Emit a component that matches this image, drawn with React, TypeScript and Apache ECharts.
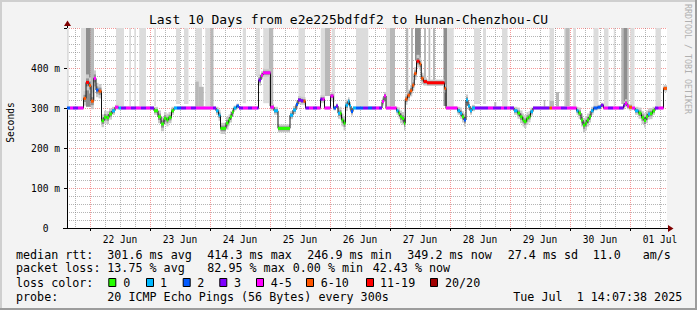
import React, { useEffect, useRef } from 'react';
import * as echarts from 'echarts';

const FONT = "'DejaVu Sans Mono', monospace";

// x values are hours since 21 Jun 00:00
const startTime = 14.8;
const endTime = 254.8;

const lossColors = ['#26ff00', '#00b8ff', '#0059ff', '#7e00ff', '#ff00ff', '#ff5500', '#ff0000', '#a10000'];
const lossLabels = ['0', '1', '2', '3', '4-5', '6-10', '11-19', '20/20'];

const midnights = [24, 48, 72, 96, 120, 144, 168, 192, 216, 240];
const sixHourTicks = [18, 24, 30, 36, 42, 48, 54, 60, 66, 72, 78, 84, 90, 96, 102, 108, 114, 120, 126, 132, 138, 144, 150, 156, 162, 168, 174, 180, 186, 192, 198, 204, 210, 216, 222, 228, 234, 240, 246, 252];
const dayLabelTimes = [36, 60, 84, 108, 132, 156, 180, 204, 228, 252];
const dayLabels = ['22 Jun', '23 Jun', '24 Jun', '25 Jun', '26 Jun', '27 Jun', '28 Jun', '29 Jun', '30 Jun', '01 Jul'];

// median rtt (ms), step starts
const medTime = [
  14.8, 16, 17.2, 19.2, 21.4, 22.4, 23.6, 24.4, 25.5, 26.4,
  27.4, 28.6, 29.6, 30.6, 31.6, 32.8, 34, 35.4, 36.4, 38.4,
  40.4, 42.4, 44.4, 46.4, 48, 49.6, 51.2, 52.4, 53.6, 54.6,
  55.4, 56.6, 57.6, 58.8, 60.4, 62.4, 64.4, 66.4, 73.2, 74.4,
  75.4, 76.2, 78.4, 79.4, 80, 80.8, 81.5, 82.6, 83.6, 85.2,
  87.2, 88.8, 90.8, 91.4, 92.4, 93.2, 96.2, 97.6, 99.2, 104,
  105.2, 106.4, 107.2, 108.4, 109.4, 110.2, 111.6, 113.2, 114.8, 116.2,
  117, 117.8, 120.2, 121.4, 122.4, 123.2, 124, 124.6, 125.4, 126.2,
  127.2, 127.8, 128.4, 129.2, 130.4, 133.2, 135.2, 136.8, 138.4, 139.6,
  140.8, 141.6, 142.4, 146.6, 147.4, 148, 148.8, 149.6, 150.1, 151,
  152, 152.9, 153.7, 154.6, 155.8, 156.5, 157.4, 158.8, 165.8, 166.4,
  171, 172, 172.8, 173.6, 174.4, 175.2, 176, 176.8, 178, 183.2,
  185.2, 188.4, 189.6, 190.8, 192, 193.6, 195, 196, 197, 197.6,
  198.6, 199.4, 200.2, 201.2, 207.8, 208.8, 212.4, 214.8, 218.6, 219.4,
  220.4, 221.2, 222.1, 222.8, 223.6, 224.4, 225.4, 227, 228.4, 229.4,
  231.2, 233.2, 235.6, 237.4, 238, 238.8, 239.6, 240.8, 242, 243.4,
  244.6, 245.6, 246.4, 247.2, 248, 249, 250, 251.4, 253.4,
];
const medValue = [
  300, 300, 300, 300, 324, 364, 356, 317, 374, 345,
  342, 268, 277, 276, 285, 293, 302, 300, 300, 300,
  300, 300, 300, 300, 300, 293, 278, 260, 274, 270,
  276, 293, 300, 300, 300, 300, 300, 300, 300, 293,
  282, 249, 262, 270, 278, 290, 300, 305, 300, 300,
  300, 300, 300, 370, 382, 388, 302, 293, 249, 282,
  295, 309, 320, 318, 317, 300, 300, 300, 300, 322,
  322, 300, 330, 300, 305, 287, 287, 270, 262, 307,
  317, 305, 291, 300, 300, 300, 300, 300, 300, 300,
  316, 330, 300, 293, 287, 278, 274, 262, 322, 332,
  343, 357, 386, 417, 410, 374, 366, 363, 349, 300,
  293, 287, 278, 270, 320, 305, 293, 300, 300, 300,
  300, 300, 300, 300, 300, 293, 287, 278, 270, 266,
  274, 278, 291, 300, 300, 300, 300, 300, 293, 287,
  270, 257, 262, 270, 278, 293, 300, 302, 307, 300,
  300, 300, 300, 307, 312, 305, 302, 300, 293, 287,
  276, 269, 278, 285, 286, 293, 300, 300, 349,
];
const medLoss = [
  2, 4, 3, 4, 5, 6, 5, 5, 4, 2,
  5, 0, 0, 0, 0, 1, 4, 1, 3, 4,
  3, 4, 3, 4, 3, 0, 0, 0, 0, 0,
  0, 0, 1, 2, 3, 4, 3, 4, 3, 1,
  1, 0, 0, 0, 0, 0, 1, 2, 3, 4,
  3, 4, 3, 3, 4, 4, 4, 1, 0, 1,
  1, 2, 3, 3, 5, 3, 4, 3, 4, 3,
  4, 4, 4, 2, 3, 1, 0, 0, 0, 1,
  1, 1, 2, 1, 2, 3, 2, 3, 4, 3,
  4, 4, 4, 1, 0, 0, 0, 0, 5, 5,
  5, 5, 5, 6, 5, 5, 6, 6, 5, 4,
  1, 1, 0, 2, 1, 1, 1, 1, 3, 4,
  3, 4, 3, 4, 3, 1, 0, 0, 0, 0,
  0, 0, 1, 3, 5, 4, 3, 4, 1, 0,
  0, 0, 0, 0, 0, 1, 2, 2, 3, 4,
  3, 4, 3, 3, 4, 4, 5, 4, 1, 0,
  0, 0, 0, 1, 0, 0, 3, 4, 5,
];
// smoke half-spread around median (ms)
const medSmoke = [
  4, 4, 4, 4, 18, 20, 20, 20, 20, 18,
  18, 16, 16, 16, 14, 10, 6, 4, 4, 4,
  4, 4, 4, 4, 4, 10, 16, 18, 16, 16,
  14, 10, 4, 4, 4, 4, 4, 4, 4, 10,
  14, 14, 16, 14, 14, 10, 6, 6, 4, 4,
  4, 4, 4, 14, 10, 10, 8, 10, 10, 10,
  10, 10, 10, 10, 10, 4, 4, 4, 4, 10,
  10, 4, 10, 6, 6, 14, 16, 16, 18, 14,
  10, 10, 10, 4, 4, 4, 4, 4, 4, 4,
  10, 10, 4, 10, 14, 16, 16, 18, 14, 14,
  14, 14, 16, 16, 16, 14, 10, 8, 10, 4,
  10, 14, 14, 16, 14, 10, 10, 8, 4, 4,
  4, 4, 4, 4, 4, 10, 14, 16, 16, 16,
  16, 14, 10, 4, 4, 4, 4, 4, 10, 14,
  16, 18, 18, 16, 14, 10, 6, 6, 6, 4,
  4, 4, 4, 10, 10, 8, 8, 4, 10, 14,
  16, 18, 16, 14, 14, 10, 4, 4, 8,
];

// gray smoke columns (outlier pings)
const colStart = [
  14.8, 20.4, 22.4, 24.3, 34.4, 39.7, 41.7, 43.7, 49.7, 58.4,
  61.6, 66.2, 66.1, 67.5, 70.1, 72.1, 85.1, 90.4, 93.3, 95.6,
  107.4, 116.3, 118, 120.7, 130.4, 142.4, 144, 150.4, 152.4, 154,
  157.6, 159.4, 161.2, 165.4, 166.8, 177.6, 181.2, 185.7, 188.8, 205.5,
  207.8, 207.8, 210.4, 213.6, 214.2, 217.3, 225.4, 229.6, 233.5, 236.5,
  237.5, 240.1, 250.2,
];
const colEnd = [
  15.5, 22.4, 24.3, 25.6, 37.6, 40.4, 42.4, 46.4, 50.4, 60,
  63.4, 68.8, 67.5, 69.5, 72.1, 73.4, 86.4, 92, 95.6, 97.3,
  110, 118, 120, 122, 135.3, 144, 146, 151.3, 153.2, 156.3,
  158.4, 160.1, 162, 166.8, 169.5, 180, 182.4, 186.5, 191, 206.1,
  209.6, 209.6, 211.6, 216, 215.8, 218.4, 227.4, 231.4, 234.1, 239.5,
  238.8, 241.8, 252.4,
];
const colLow = [
  300, 320, 303, 320, 305, 305, 305, 305, 305, 310,
  310, 305, 300, 300, 305, 302, 312, 380, 312, 305,
  320, 325, 330, 315, 305, 305, 305, 338, 360, 420,
  370, 370, 370, 305, 302, 310, 310, 300, 305, 300,
  305, 300, 300, 305, 305, 305, 305, 305, 305, 310,
  310, 305, 305,
];
const colHigh = [
  500, 500, 500, 500, 500, 500, 500, 500, 500, 500,
  500, 500, 366, 353, 500, 500, 500, 500, 500, 500,
  500, 500, 500, 500, 500, 500, 500, 500, 500, 500,
  500, 500, 500, 500, 500, 500, 500, 315, 500, 320,
  500, 318, 340, 500, 500, 500, 500, 500, 500, 500,
  500, 500, 500,
];
const colShade = [
  0, 0, 2, 1, 0, 0, 0, 0, 0, 0,
  0, 0, 1, 1, 0, 1, 0, 0, 0, 1,
  0, 0, 1, 0, 0, 0, 1, 1, 1, 2,
  1, 1, 1, 2, 0, 0, 0, 1, 0, 1,
  0, 1, 1, 0, 1, 0, 0, 0, 0, 1,
  2, 0, 0,
];
const shadeColors = ['#dcdcdc', '#b8b8b8', '#8e8e8e'];

const statLine1 = [
  [16, 'median rtt:'], [107.3, '301.6 ms avg'], [207.3, '414.3 ms max'], [307.3, '246.9 ms min'],
  [407.3, '349.2 ms now'], [507.7, '27.4 ms sd'], [592.7, '11.0'], [642.7, 'am/s'],
];
const statLine2 = [
  [16, 'packet loss:'], [107.3, '13.75 % avg'], [207.3, '82.95 % max'], [292.7, '0.00 % min'], [372.7, '42.43 % now'],
];
const statLine4 = [
  [16, 'probe:'], [107.3, '20 ICMP Echo Pings (56 Bytes) every 300s'], [513.3, 'Tue Jul'], [576.7, '1 14:07:38 2025'],
];
const swatchX = [108.3, 146, 182.7, 219.3, 256, 306, 366, 430];
const swatchLabelX = [123.3, 160, 197.3, 234, 270.7, 320.7, 380, 445];

const GRID_MINOR = 'rgba(120,120,120,0.55)';
const GRID_MAJOR = 'rgba(235,70,70,0.55)';

function txt(x: number, y: number, text: string, extra: any = {}) {
  return {
    type: 'text', x, y, silent: true,
    style: {
      text, fill: '#000', fontFamily: FONT, fontSize: 11.7,
      align: 'left', verticalAlign: 'middle', textAlign: 'left', textVerticalAlign: 'middle',
      ...extra,
    },
  };
}

export default function App() {
  const ref = useRef<HTMLDivElement>(null);
  useEffect(() => {
    if (!ref.current) return;
    const chart = echarts.init(ref.current, undefined, { renderer: 'svg' });

    const medSeg = medTime.map((t, i) => [t, i + 1 < medTime.length ? medTime[i + 1] : endTime, medValue[i], medLoss[i], medSmoke[i]]);
    const linePts = medTime.map((t, i) => [t, medValue[i]]);
    linePts.push([endTime, medValue[medValue.length - 1]]);
    const cols = colStart.map((t, i) => [t, colEnd[i], colLow[i], colHigh[i], colShade[i]]);

    const graphics: any[] = [];
    graphics.push({ type: 'rect', shape: { x: 0, y: 0, width: 697, height: 2 }, style: { fill: '#cfcfcf' }, silent: true });
    graphics.push({ type: 'rect', shape: { x: 0, y: 0, width: 2, height: 310 }, style: { fill: '#cfcfcf' }, silent: true });
    graphics.push({ type: 'rect', shape: { x: 0, y: 308, width: 697, height: 2 }, style: { fill: '#9c9c9c' }, silent: true });
    graphics.push({ type: 'rect', shape: { x: 695, y: 0, width: 2, height: 310 }, style: { fill: '#9c9c9c' }, silent: true });
    graphics.push(txt(348.5, 19, 'Last 10 Days from e2e225bdfdf2 to Hunan-Chenzhou-CU', { fontSize: 13, align: 'center', textAlign: 'center' }));
    graphics.push({ ...txt(10.5, 122.5, 'Seconds', { fontSize: 9.6, align: 'center', textAlign: 'center' }), rotation: Math.PI / 2 });
    graphics.push({ ...txt(687.5, 4, 'RRDTOOL / TOBI OETIKER', { fontSize: 8.3, fill: '#b0b0b0' }), rotation: -Math.PI / 2 });
    graphics.push({ type: 'line', shape: { x1: 67.5, y1: 25, x2: 67.5, y2: 28 }, style: { stroke: '#000', lineWidth: 1 }, silent: true });
    graphics.push({ type: 'polygon', shape: { points: [[64, 26], [71, 26], [67.5, 20.5]] }, style: { fill: '#7f0000' }, silent: true });
    graphics.push({ type: 'line', shape: { x1: 63, y1: 228.5, x2: 669, y2: 228.5 }, style: { stroke: '#000', lineWidth: 1 }, silent: true });
    graphics.push({ type: 'polygon', shape: { points: [[668, 225], [668, 232], [673.5, 228.5]] }, style: { fill: '#7f0000' }, silent: true });
    statLine1.forEach(([x, s]) => graphics.push(txt(x as number, 255, s as string)));
    statLine2.forEach(([x, s]) => graphics.push(txt(x as number, 268.3, s as string)));
    graphics.push(txt(16, 282.7, 'loss color:'));
    lossColors.forEach((c, i) => {
      graphics.push({ type: 'rect', shape: { x: swatchX[i] + 0.5, y: 278.5, width: 7, height: 8 }, style: { fill: c, stroke: '#000', lineWidth: 1 }, silent: true });
      graphics.push(txt(swatchLabelX[i], 282.7, lossLabels[i]));
    });
    statLine4.forEach(([x, s]) => graphics.push(txt(x as number, 296.7, s as string)));

    const option: any = {
      animation: false,
      backgroundColor: '#f3f3f3',
      grid: { left: 67, top: 28, width: 600, height: 200, show: true, backgroundColor: '#ffffff', borderWidth: 0 },
      xAxis: {
        type: 'value', min: startTime, max: endTime,
        axisLine: { show: true, lineStyle: { color: '#000', width: 1 } },
        axisTick: { show: true, customValues: midnights, length: 3, lineStyle: { color: '#000' } },
        axisLabel: {
          customValues: dayLabelTimes,
          formatter: (v: number) => {
            const i = dayLabelTimes.findIndex((t) => Math.abs(t - v) < 0.01);
            return i >= 0 ? dayLabels[i] : '';
          },
          fontFamily: FONT, fontSize: 9.6, color: '#000', margin: 6,
        },
        splitLine: { show: false },
      },
      yAxis: {
        type: 'value', min: 0, max: 500, interval: 100,
        axisLine: { show: true, lineStyle: { color: '#000', width: 1 } },
        axisTick: { show: true, length: 3, lineStyle: { color: '#000' } },
        axisLabel: {
          formatter: (v: number) => (v === 0 ? '{z|0}' : v >= 500 ? '' : `${v} m`),
          rich: { z: { fontFamily: FONT, fontSize: 9.6, color: '#000', padding: [0, 11.5, 0, 0] } },
          fontFamily: FONT, fontSize: 9.6, color: '#000', margin: 7,
        },
        splitLine: { show: true, lineStyle: { color: GRID_MAJOR, type: [1, 1], width: 1 } },
        minorTick: { show: false, splitNumber: 5 },
        minorSplitLine: { show: true, lineStyle: { color: GRID_MINOR, type: [1, 1], width: 1 } },
      },
      series: [
        {
          type: 'custom', z: 1, silent: true, clip: true,
          data: sixHourTicks.map((t) => [t, 0]),
          encode: { x: 0, y: 1 },
          renderItem: (params: any, api: any) => {
            const t = api.value(0);
            const p = api.coord([t, 0]);
            const cs = params.coordSys;
            const x = Math.round(p[0]) + 0.5;
            const major = midnights.indexOf(t) >= 0;
            return {
              type: 'line',
              shape: { x1: x, y1: cs.y, x2: x, y2: cs.y + cs.height },
              style: { stroke: major ? GRID_MAJOR : GRID_MINOR, lineWidth: 1, lineDash: [1, 1] },
            };
          },
        },
        {
          type: 'custom', z: 2, silent: true, clip: true,
          data: cols,
          encode: { x: [0, 1], y: [2, 3] },
          renderItem: (params: any, api: any) => {
            const a = api.coord([api.value(0), api.value(3)]);
            const b = api.coord([api.value(1), api.value(2)]);
            return {
              type: 'rect',
              shape: { x: a[0], y: a[1], width: b[0] - a[0], height: b[1] - a[1] },
              style: { fill: shadeColors[api.value(4)] },
            };
          },
        },
        {
          type: 'custom', z: 3, silent: true, clip: true,
          data: medSeg,
          encode: { x: [0, 1], y: 2 },
          renderItem: (params: any, api: any) => {
            const v = api.value(2);
            const s = api.value(4);
            const a = api.coord([api.value(0), v + s]);
            const b = api.coord([api.value(1), v - s]);
            const c = api.coord([api.value(0), v + s / 2]);
            const d = api.coord([api.value(1), v - s / 2]);
            return {
              type: 'group',
              children: [
                { type: 'rect', shape: { x: a[0], y: a[1], width: b[0] - a[0], height: b[1] - a[1] }, style: { fill: '#cacaca' } },
                { type: 'rect', shape: { x: c[0], y: c[1], width: d[0] - c[0], height: d[1] - c[1] }, style: { fill: '#929292' } },
              ],
            };
          },
        },
        {
          type: 'line', z: 4, silent: true, step: 'end', showSymbol: false, symbol: 'none',
          data: linePts,
          lineStyle: { color: '#111', width: 1 },
        },
        {
          type: 'custom', z: 5, silent: true, clip: true,
          data: medSeg,
          encode: { x: [0, 1], y: 2 },
          renderItem: (params: any, api: any) => {
            const a = api.coord([api.value(0), api.value(2)]);
            const b = api.coord([api.value(1), api.value(2)]);
            return {
              type: 'rect',
              shape: { x: a[0], y: a[1] - 1.5, width: b[0] - a[0], height: 3 },
              style: { fill: lossColors[api.value(3)] },
            };
          },
        },
      ],
      graphic: { elements: graphics },
    };
    chart.setOption(option);
    return () => chart.dispose();
  }, []);
  return <div ref={ref} style={{ position: 'absolute', left: 0, top: 0, width: 697, height: 310 }} />;
}
